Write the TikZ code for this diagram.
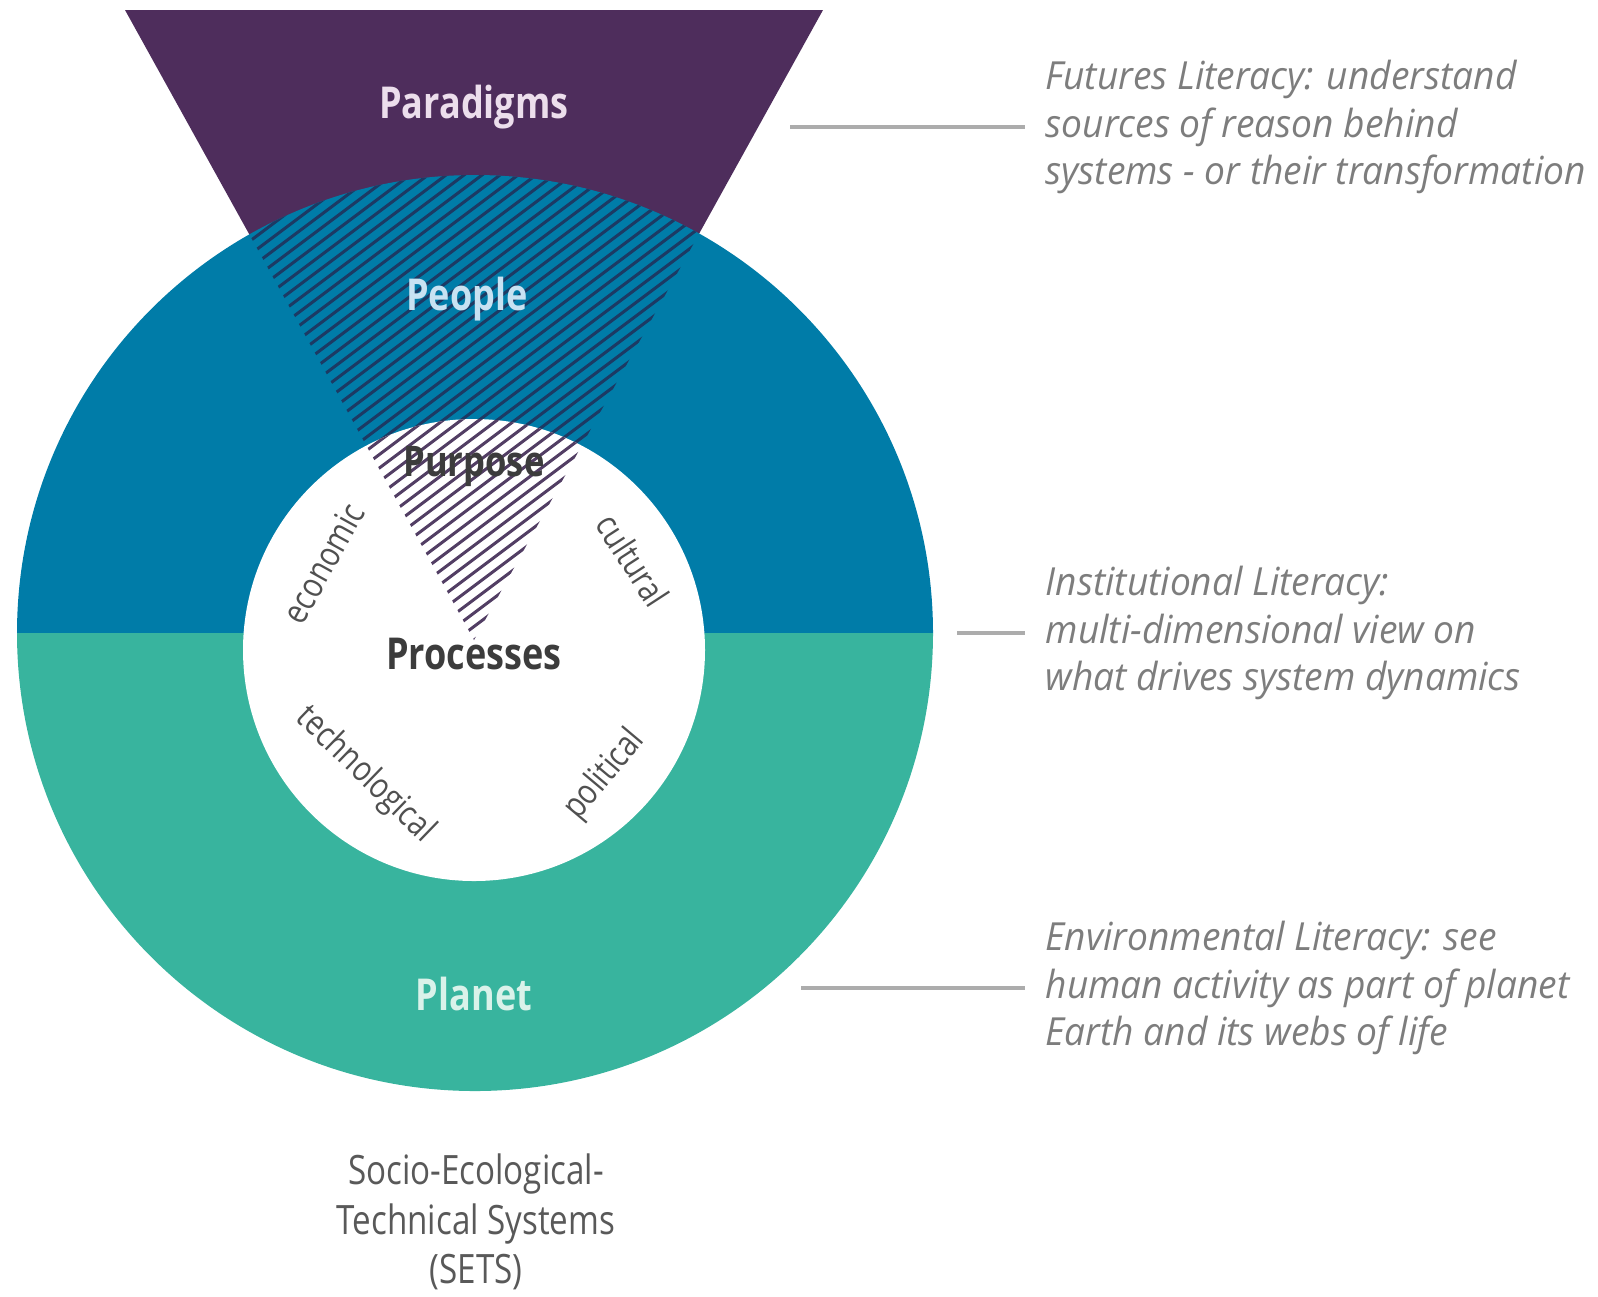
\documentclass[tikz,border=0pt]{standalone}
\usepackage{fontspec}
\setmainfont{Open Sans}[FakeStretch=0.82]
\newfontfamily\notefont{Open Sans}[FakeStretch=0.96]
\usetikzlibrary{positioning}

\definecolor{paradigm}{RGB}{78,45,92}
\definecolor{people}{RGB}{0,124,168}
\definecolor{planet}{RGB}{56,180,158}
\definecolor{paradigmtext}{RGB}{236,222,236}
\definecolor{peopletext}{RGB}{200,226,242}
\definecolor{planettext}{RGB}{218,242,234}
\definecolor{darktext}{RGB}{60,60,60}
\definecolor{facettext}{RGB}{80,80,80}
\definecolor{notegray}{RGB}{125,125,125}
\definecolor{leadgray}{RGB}{172,172,172}
\definecolor{ringhatch}{RGB}{28,58,100}
\definecolor{corehatch}{RGB}{82,62,100}

\begin{document}
\begin{tikzpicture}[x=0.01cm,y=0.01cm,
    ringtext/.style={font=\bfseries\fontsize{12.5}{14}\selectfont},
    facet/.style={font=\fontsize{10}{12}\selectfont, text=facettext},
    remark/.style={font=\notefont\itshape\fontsize{11}{13.6}\selectfont, text=notegray,
                   align=left, anchor=west, inner xsep=0.2cm, inner ysep=0pt},
    caption/.style={font=\fontsize{11.5}{14}\selectfont, text=darktext!85, align=center},
    leader/.style={draw=leadgray, line width=1.1pt},
    hatchline/.style={line width=0.85pt}]
    \useasboundingbox (0,0) rectangle (1598,-1296);

    \coordinate (outer) at (475,-633);
    \coordinate (inner) at (474,-650);
    \coordinate (tl)    at (125,-10);
    \coordinate (tr)    at (823,-10);
    \coordinate (tip)   at (474,-640);

    % paradigms wedge
    \fill[paradigm] (tl) -- (tr) -- (tip) -- cycle;

    % people / planet ring
    \fill[people] (outer) ++(-458,0) arc[start angle=180, end angle=0, radius=458] -- cycle;
    \fill[planet] (outer) ++(458,0) arc[start angle=0, end angle=-180, radius=458] -- cycle;
    \begin{scope}
        \clip (tl) -- (tr) -- (tip) -- cycle;
        \clip (outer) circle (458);
        \foreach \x in {-560,-542,...,720}
            \draw[hatchline, ringhatch] (\x,-700) -- ++(800,600);
    \end{scope}

    % processes core
    \fill[white] (inner) circle (231);
    \begin{scope}
        \clip (tl) -- (tr) -- (tip) -- cycle;
        \clip (inner) circle (231);
        \foreach \x in {-560,-542,...,720}
            \draw[hatchline, corehatch] (\x,-700) -- ++(800,600);
    \end{scope}

    \node[ringtext, text=paradigmtext] (paradigms) at (474,-107) {Paradigms};
    \node[ringtext, text=peopletext]   (peopletxt) at (467,-299) {People};
    \node[ringtext, text=darktext, font=\bfseries\fontsize{12}{14}\selectfont]
                                       (purpose)   at (474,-466) {Purpose};
    \node[ringtext, text=darktext]     (processes) at (474,-654) {Processes};
    \node[ringtext, text=planettext]   (planettxt) at (474,-994) {Planet};

    \node[facet, rotate=61]  (economic)      at (323,-563) {economic};
    \node[facet, rotate=-57] (cultural)      at (633,-560) {cultural};
    \node[facet, rotate=-44] (technological) at (365,-775) {technological};
    \node[facet, rotate=50]  (political)     at (605,-775) {political};

    \node[caption] (sets) at (476,-1222) {Socio-Ecological-\\Technical Systems\\(SETS)};

    % literacies
    \coordinate (futend) at (790,-127);
    \coordinate (insend) at (957,-633);
    \coordinate (envend) at (801,-988);
    \node[remark] (futures) at (1025,-127)
        {Futures Literacy: understand\\sources of reason behind\\systems - or their transformation};
    \node[remark] (institutional) at (1025,-633)
        {Institutional Literacy:\\multi-dimensional view on\\what drives system dynamics};
    \node[remark] (environmental) at (1025,-988)
        {Environmental Literacy: see\\human activity as part of planet\\Earth and its webs of life};
    \draw[leader] (futend) -- (futures.west);
    \draw[leader] (insend) -- (institutional.west);
    \draw[leader] (envend) -- (environmental.west);
\end{tikzpicture}
\end{document}
